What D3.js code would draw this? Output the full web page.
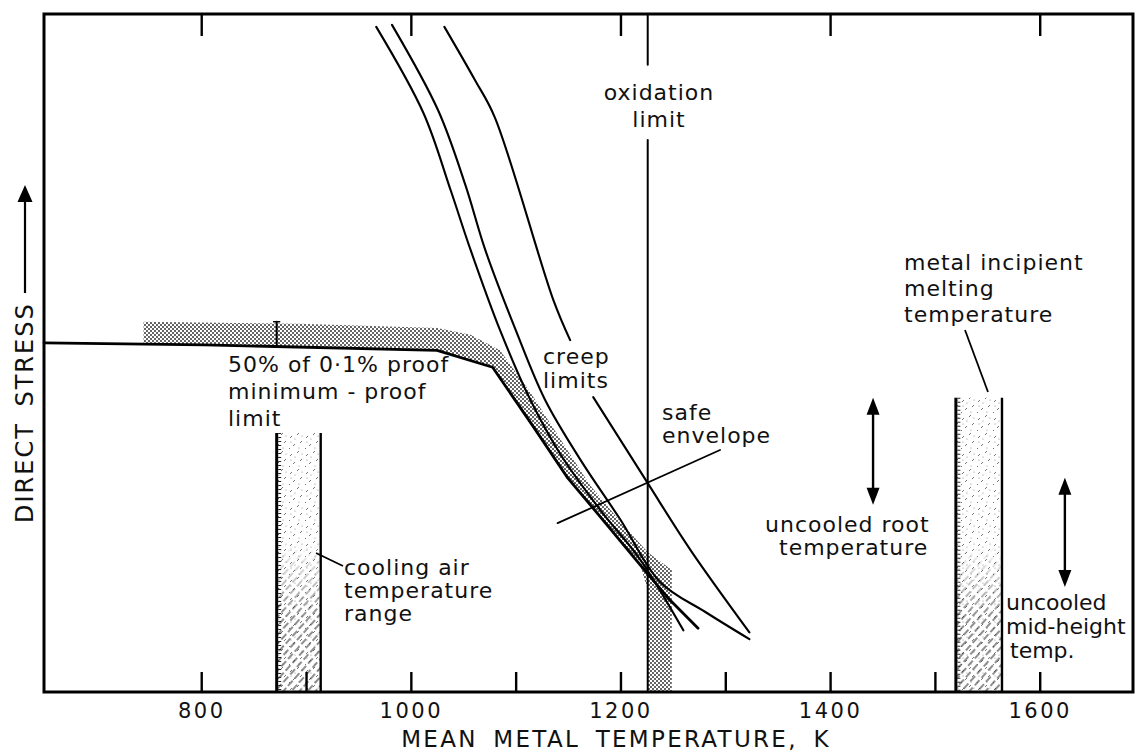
<!DOCTYPE html>
<html>
<head>
<meta charset="utf-8">
<script src="https://cdn.jsdelivr.net/npm/d3@7"></script>
<style>
  html, body { margin: 0; padding: 0; background: #fff; }
  svg { display: block; }
  text { font-family: "DejaVu Sans", sans-serif; fill: #111; }
</style>
</head>
<body>
<svg id="chart" width="1137" height="751"></svg>
<script>
// Temperature axis (K)
const bottomTicks = [800, 900, 1000, 1100, 1200, 1300, 1400, 1500, 1600];
const topTicks = [800, 1000, 1200, 1400, 1600];
const labelledTicks = [800, 1000, 1200, 1400, 1600];

// Direct stress in relative units, [temperature K, stress]
const proofLimit = [[650, 51.5], [803, 51.2], [1025, 50.4], [1078, 47.9], [1117, 39.1],
  [1149, 31.7], [1181, 25.8], [1219, 18.7], [1247, 13.6], [1274, 9.4]];
const creepA = [[967, 98.1], [1012, 85.4], [1038, 74.0], [1057, 65.2], [1085, 53.4],
  [1114, 43.1], [1143, 35.0], [1181, 26.8], [1219, 19.5], [1260, 9.1]];
const creepB = [[982, 98.4], [1026, 85.8], [1052, 74.8], [1071, 65.2], [1100, 53.4],
  [1128, 43.1], [1162, 34.2], [1200, 25.4], [1238, 16.2], [1281, 11.8], [1323, 7.8]];
// null leaves room for the "creep limits" label
const creepC = [[1032, 98.1], [1061, 90.3], [1080, 84.8], [1136, 57.8], [1152, 51.9], null,
  [1174, 43.5], [1226, 30.8], [1267, 20.9], [1323, 8.8]];

// Safe operating envelope band
const envelopeUpper = [[745, 54.6], [894, 54.3], [1025, 53.7], [1057, 52.7], [1085, 50.4],
  [1114, 44.2], [1143, 37.2], [1171, 30.5], [1200, 25.1], [1226, 20.6], [1249, 18.0], [1249, 0]];
const envelopeLower = [[1226, 0], [1226, 15.0], [1219, 18.7], [1181, 25.8], [1149, 31.7],
  [1117, 39.1], [1078, 47.9], [1025, 50.4], [894, 51.0], [745, 51.3]];

const oxidationLimit = 1226;
const coolingAirRange = [872, 914];
const coolingAirTop = 38.2;
const meltingRange = [1520, 1564];
const meltingTop = 43.4;
const proofMarker = [872, 51.3, 54.6];
const safeEnvelopePointer = [[1140, 24.9], [1295, 35.7]];
const rootTemperature = [1441, 27.6, 43.4];
const midHeightTemperature = [1624, 15.5, 31.6];

const W = 1137, H = 751;
const svg = d3.select("#chart");
svg.append("rect").attr("width", W).attr("height", H).attr("fill", "#fff");

const x = d3.scaleLinear().domain([650, 1689]).range([44, 1133]);
const y = d3.scaleLinear().domain([0, 100]).range([692, 14]);

// ---------- fill patterns ----------
const defs = svg.append("defs");

const stipple = defs.append("pattern").attr("id", "stipple")
  .attr("patternUnits", "userSpaceOnUse").attr("width", 4).attr("height", 4);
stipple.append("rect").attr("width", 4).attr("height", 4).attr("fill", "#fff");
stipple.append("circle").attr("cx", 1).attr("cy", 1).attr("r", 0.95).attr("fill", "#222");
stipple.append("circle").attr("cx", 3).attr("cy", 3).attr("r", 0.95).attr("fill", "#222");

const sparse = defs.append("pattern").attr("id", "sparse")
  .attr("patternUnits", "userSpaceOnUse").attr("width", 16).attr("height", 18);
[[2, 6, 4, 4], [9, 3, 11, 1], [12, 11, 14, 9], [5, 14, 7, 12], [1, 17, 2, 16]].forEach(s => {
  sparse.append("line").attr("x1", s[0]).attr("y1", s[1]).attr("x2", s[2]).attr("y2", s[3])
    .attr("stroke", "#777").attr("stroke-width", 1);
});
[[7, 7], [14, 4], [3, 10], [11, 16]].forEach(p => {
  sparse.append("circle").attr("cx", p[0]).attr("cy", p[1]).attr("r", 0.6).attr("fill", "#888");
});

const hatch = defs.append("pattern").attr("id", "hatch")
  .attr("patternUnits", "userSpaceOnUse").attr("width", 6).attr("height", 10)
  .attr("patternTransform", "rotate(42)");
hatch.append("line").attr("x1", 1).attr("y1", 0).attr("x2", 1).attr("y2", 7)
  .attr("stroke", "#333").attr("stroke-width", 1.1);

const grad = defs.append("linearGradient").attr("id", "fadeDown")
  .attr("x1", 0).attr("y1", 0).attr("x2", 0).attr("y2", 1);
grad.append("stop").attr("offset", 0).attr("stop-color", "#000");
grad.append("stop").attr("offset", 0.42).attr("stop-color", "#000");
grad.append("stop").attr("offset", 0.72).attr("stop-color", "#fff");
grad.append("stop").attr("offset", 1).attr("stop-color", "#fff");
const mask = defs.append("mask").attr("id", "lowerHalf").attr("maskContentUnits", "objectBoundingBox");
mask.append("rect").attr("width", 1).attr("height", 1).attr("fill", "url(#fadeDown)");

const line = d3.line().defined(d => d !== null).x(d => x(d[0])).y(d => y(d[1]));
const smoothLine = d3.line().defined(d => d !== null).x(d => x(d[0])).y(d => y(d[1]))
  .curve(d3.curveCatmullRom.alpha(0.5));

// ---------- safe envelope band ----------
svg.append("path")
  .attr("d", line(envelopeUpper.concat(envelopeLower)) + "Z")
  .attr("fill", "url(#stipple)");

// ---------- temperature bands ----------
function band(range, top, lowerHatchShift) {
  const g = svg.append("g");
  const bx = x(range[0]), bw = x(range[1]) - x(range[0]);
  const by = y(top), bh = y(0) - y(top);
  g.append("rect").attr("x", bx).attr("y", by).attr("width", bw).attr("height", bh)
    .attr("fill", "url(#sparse)");
  g.append("rect").attr("x", bx).attr("y", by + lowerHatchShift).attr("width", bw)
    .attr("height", bh - lowerHatchShift).attr("fill", "url(#hatch)").attr("mask", "url(#lowerHalf)");
  g.append("line").attr("x1", bx + 3).attr("x2", bx + 3).attr("y1", by).attr("y2", y(0))
    .attr("stroke", "#222").attr("stroke-width", 3).attr("stroke-dasharray", "1 3");
  g.append("line").attr("x1", bx).attr("x2", bx).attr("y1", by).attr("y2", y(0))
    .attr("stroke", "#000").attr("stroke-width", 3);
  g.append("line").attr("x1", bx + bw).attr("x2", bx + bw).attr("y1", by).attr("y2", y(0))
    .attr("stroke", "#000").attr("stroke-width", 2.4);
}
band(coolingAirRange, coolingAirTop, 0);
band(meltingRange, meltingTop, 40);

// ---------- limit curves ----------
const curves = svg.append("g").attr("fill", "none").attr("stroke", "#000")
  .attr("stroke-linejoin", "round").attr("stroke-linecap", "round");
curves.append("path").attr("d", line(proofLimit)).attr("stroke-width", 2.8);
curves.append("path").attr("d", smoothLine(creepA)).attr("stroke-width", 2.1);
curves.append("path").attr("d", smoothLine(creepB)).attr("stroke-width", 2.1);
curves.append("path").attr("d", smoothLine(creepC)).attr("stroke-width", 2.1);

// proof-band marker
curves.append("line").attr("x1", x(proofMarker[0])).attr("x2", x(proofMarker[0]))
  .attr("y1", y(proofMarker[2])).attr("y2", y(proofMarker[1])).attr("stroke-width", 2);
curves.append("line").attr("x1", x(proofMarker[0]) - 3).attr("x2", x(proofMarker[0]) + 3)
  .attr("y1", y(proofMarker[2])).attr("y2", y(proofMarker[2])).attr("stroke-width", 1.5);

// oxidation limit (broken around its label)
curves.append("line").attr("x1", x(oxidationLimit)).attr("x2", x(oxidationLimit))
  .attr("y1", y(100)).attr("y2", y(92.5)).attr("stroke-width", 2);
curves.append("line").attr("x1", x(oxidationLimit)).attr("x2", x(oxidationLimit))
  .attr("y1", y(81.4)).attr("y2", y(0)).attr("stroke-width", 2);

// safe envelope pointer
curves.append("path").attr("d", line(safeEnvelopePointer)).attr("stroke-width", 1.8);

// ---------- stress range arrows ----------
function doubleArrow(spec) {
  const ax = x(spec[0]), y1 = y(spec[2]), y2 = y(spec[1]);
  const hw = 6.5, hh = 17;
  svg.append("line").attr("x1", ax).attr("x2", ax).attr("y1", y1 + hh - 2).attr("y2", y2 - hh + 2)
    .attr("stroke", "#000").attr("stroke-width", 2.4);
  svg.append("path").attr("d", `M${ax},${y1}L${ax - hw},${y1 + hh}L${ax + hw},${y1 + hh}Z`).attr("fill", "#000");
  svg.append("path").attr("d", `M${ax},${y2}L${ax - hw},${y2 - hh}L${ax + hw},${y2 - hh}Z`).attr("fill", "#000");
}
doubleArrow(rootTemperature);
doubleArrow(midHeightTemperature);

// ---------- axes ----------
const bottomAxis = d3.axisBottom(x).tickValues(bottomTicks).tickSize(-20).tickPadding(11)
  .tickFormat(d => labelledTicks.includes(d) ? d : "");
const gb = svg.append("g").attr("transform", `translate(0,${y(0)})`).call(bottomAxis);
gb.select(".domain").remove();
gb.selectAll(".tick line").attr("stroke", "#000").attr("stroke-width", 2.4);
gb.selectAll(".tick text").attr("font-family", "DejaVu Sans").attr("font-size", 21)
  .attr("letter-spacing", 2.5).attr("fill", "#111");

const topAxis = d3.axisTop(x).tickValues(topTicks).tickSize(-22).tickFormat("");
const gt = svg.append("g").attr("transform", `translate(0,${y(100)})`).call(topAxis);
gt.select(".domain").remove();
gt.selectAll(".tick line").attr("stroke", "#000").attr("stroke-width", 2.4);

// frame
svg.append("rect").attr("x", x.range()[0]).attr("y", y(100))
  .attr("width", x.range()[1] - x.range()[0]).attr("height", y(0) - y(100))
  .attr("fill", "none").attr("stroke", "#000").attr("stroke-width", 3);

// axis titles
svg.append("text").attr("x", 616).attr("y", 747).attr("text-anchor", "middle")
  .attr("font-size", 23).attr("letter-spacing", 2.3).attr("word-spacing", 6)
  .text("MEAN METAL TEMPERATURE, K");
svg.append("text").attr("transform", "translate(33,523) rotate(-90)")
  .attr("font-size", 24).attr("letter-spacing", 2).attr("word-spacing", 6)
  .text("DIRECT STRESS");
svg.append("line").attr("x1", 25).attr("x2", 25).attr("y1", 293).attr("y2", 198)
  .attr("stroke", "#000").attr("stroke-width", 2.2);
svg.append("path").attr("d", "M25,185L17.5,202L32.5,202Z").attr("fill", "#000");

// ---------- annotations ----------
function label(lines, x0, y0, opts = {}) {
  const t = svg.append("text").attr("font-size", opts.size || 22)
    .attr("letter-spacing", opts.ls === undefined ? 1 : opts.ls)
    .attr("text-anchor", opts.anchor || "start");
  lines.forEach((s, i) => {
    t.append("tspan").attr("x", x0 + (opts.indent ? opts.indent[i] : 0))
      .attr("y", y0 + i * (opts.lh || 25)).text(s);
  });
}
label(["oxidation", "limit"], 659, 100, { anchor: "middle", lh: 27 });
label(["creep", "limits"], 543, 364, { lh: 24 });
label(["safe", "envelope"], 662, 420, { lh: 23 });
label(["50% of 0·1% proof", "minimum - proof", "limit"], 228, 372, { lh: 27 });
label(["cooling air", "temperature", "range"], 344, 575, { lh: 23 });
label(["metal incipient", "melting", "temperature"], 904, 270, { lh: 26 });
label(["uncooled root", "temperature"], 765, 532, { lh: 23, indent: [0, 14] });
label(["uncooled", "mid-height", "temp."], 1006, 610, { lh: 24, ls: 0, indent: [0, 0, 4] });

// leader lines
svg.append("line").attr("x1", 316).attr("y1", 553).attr("x2", 343).attr("y2", 566)
  .attr("stroke", "#000").attr("stroke-width", 1.8);
svg.append("line").attr("x1", 965).attr("y1", 330).attr("x2", 988).attr("y2", 392)
  .attr("stroke", "#000").attr("stroke-width", 1.8);
</script>
</body>
</html>
